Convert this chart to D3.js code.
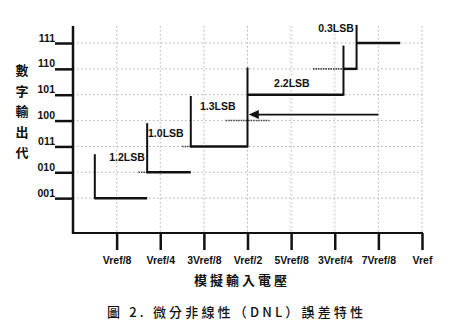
<!DOCTYPE html>
<html>
<head>
<meta charset="utf-8">
<script src="https://cdn.jsdelivr.net/npm/d3@7"></script>
<style>
  body { margin: 0; background: #fff; }
  svg { display: block; }
  .axis text { font-family: "Liberation Sans", Arial, sans-serif; font-weight: bold; font-size: 10.5px; fill: #111; }
</style>
</head>
<body>
<svg class="diagram" width="450" height="331"></svg>
<script>
// output codes (y) and input voltage ticks (x, in Vref/8 units)
var codes = ["001", "010", "011", "100", "101", "110", "111"];
var xLabels = ["Vref/8", "Vref/4", "3Vref/8", "Vref/2", "5Vref/8", "3Vref/4", "7Vref/8", "Vref"];

// actual transfer steps: [code, x start, x end]
var steps = [[1, 0.5, 1.7], [2, 1.7, 2.7], [3, 2.7, 4.0], [5, 4.0, 6.2], [6, 6.2, 6.5], [7, 6.5, 7.5]];
// transition risers: [x, code low, code high]
var risers = [[0.5, 1, 2.7], [1.7, 2, 3.9], [2.7, 3, 4.95], [4.0, 3, 6.05], [6.2, 5, 6.9], [6.5, 6, 7.7]];
// ideal (dotted) segments: [code, x start, x end]
var ideal = [[2, 1.5, 1.7], [3, 2.5, 2.7], [4, 3.5, 4.5], [6, 5.5, 6.2]];
// step width labels: [text, x, code]
var widths = [["1.2LSB", 0.83, 2.44], ["1.0LSB", 1.72, 3.36], ["1.3LSB", 2.91, 4.41], ["2.2LSB", 4.61, 5.3], ["0.3LSB", 5.62, 7.42]];
// missing code arrow: [x from, x to, code]
var arrow = [7.0, 4.03, 4.23];

var yTitle = "數字輸出代";
var xTitle = "模擬輸入電壓";
var caption = "圖 2.  微分非線性（DNL）誤差特性";

var svg = d3.select("svg.diagram");

var x = d3.scaleLinear().domain([0, 8]).range([73, 422]);
var y = d3.scaleLinear().domain([0, 7]).range([224, 43]);
var yTop = 7.66, yBottom = -0.35;

var g = svg.append("g");

// grid
g.append("g").selectAll("line")
    .data(d3.range(1, 8))
  .enter().append("line")
    .attr("x1", x(0)).attr("x2", x(8))
    .attr("y1", function(d) { return y(d); })
    .attr("y2", function(d) { return y(d); })
    .attr("stroke", "#b0b0b0").attr("stroke-width", 1).attr("stroke-dasharray", "1.5,2.5");

g.append("g").selectAll("line")
    .data(d3.range(1, 9))
  .enter().append("line")
    .attr("x1", function(d) { return x(d); })
    .attr("x2", function(d) { return x(d); })
    .attr("y1", y(yTop)).attr("y2", y(yBottom))
    .attr("stroke", "#b0b0b0").attr("stroke-width", 1).attr("stroke-dasharray", "1.5,2.5");

// axes
var xAxis = g.append("g")
    .attr("class", "axis")
    .attr("transform", "translate(0," + y(yBottom) + ")")
    .call(d3.axisBottom(x)
      .tickValues(d3.range(1, 9))
      .tickSize(17)
      .tickPadding(6)
      .tickFormat(function(d) { return xLabels[d - 1]; }));
xAxis.select(".domain").remove();
xAxis.selectAll(".tick line").attr("stroke", "#111").attr("stroke-width", 2.5);

var yAxis = g.append("g")
    .attr("class", "axis")
    .attr("transform", "translate(" + x(0) + ",0)")
    .call(d3.axisLeft(y)
      .tickValues(d3.range(1, 8))
      .tickSize(18)
      .tickFormat(function(d) { return codes[d - 1]; }));
yAxis.select(".domain").remove();
yAxis.selectAll(".tick line").attr("stroke", "#111").attr("stroke-width", 2.5);
yAxis.selectAll(".tick text").attr("x", -18).attr("dy", "-2");

g.append("line")
    .attr("x1", x(0)).attr("x2", x(0))
    .attr("y1", y(yTop)).attr("y2", y(yBottom) + 1)
    .attr("stroke", "#111").attr("stroke-width", 2.5);
g.append("line")
    .attr("x1", x(0)).attr("x2", x(8) + 1)
    .attr("y1", y(yBottom)).attr("y2", y(yBottom))
    .attr("stroke", "#111").attr("stroke-width", 2);

// ideal dotted segments
g.append("g").selectAll("line")
    .data(ideal)
  .enter().append("line")
    .attr("x1", function(d) { return x(d[1]); })
    .attr("x2", function(d) { return x(d[2]); })
    .attr("y1", function(d) { return y(d[0]); })
    .attr("y2", function(d) { return y(d[0]); })
    .attr("stroke", "#444").attr("stroke-width", 1.6).attr("stroke-dasharray", "1.5,1");

// steps
g.append("g").selectAll("line")
    .data(steps)
  .enter().append("line")
    .attr("x1", function(d) { return x(d[1]); })
    .attr("x2", function(d) { return x(d[2]); })
    .attr("y1", function(d) { return y(d[0]); })
    .attr("y2", function(d) { return y(d[0]); })
    .attr("stroke", "#111").attr("stroke-width", 2.5);

g.append("g").selectAll("line")
    .data(risers)
  .enter().append("line")
    .attr("x1", function(d) { return x(d[0]); })
    .attr("x2", function(d) { return x(d[0]); })
    .attr("y1", function(d) { return y(d[1]) + 1; })
    .attr("y2", function(d) { return y(d[2]); })
    .attr("stroke", "#111").attr("stroke-width", 2);

// arrow to missing code
g.append("line")
    .attr("x1", x(arrow[0])).attr("x2", x(arrow[1]) + 6)
    .attr("y1", y(arrow[2])).attr("y2", y(arrow[2]))
    .attr("stroke", "#111").attr("stroke-width", 1.6);
g.append("path")
    .attr("d", "M" + x(arrow[1]) + "," + y(arrow[2]) +
               "l10,-4.5l0,9z")
    .attr("fill", "#111");

// width labels
g.append("g").selectAll("text")
    .data(widths)
  .enter().append("text")
    .attr("x", function(d) { return x(d[1]); })
    .attr("y", function(d) { return y(d[2]); })
    .attr("font-family", "Liberation Sans, Arial, sans-serif")
    .attr("font-weight", "bold")
    .attr("font-size", 10.5)
    .attr("fill", "#111")
    .text(function(d) { return d[0]; });

// titles
var cjk = "'Noto Sans CJK TC', 'Noto Sans CJK SC', sans-serif";

g.append("g").selectAll("text")
    .data(yTitle.split(""))
  .enter().append("text")
    .attr("x", 22)
    .attr("y", function(d, i) { return 75 + i * 20.5; })
    .attr("text-anchor", "middle")
    .attr("font-family", cjk)
    .attr("font-weight", "bold")
    .attr("font-size", 13)
    .attr("fill", "#111")
    .text(function(d) { return d; });

g.append("text")
    .attr("x", 194).attr("y", 285)
    .attr("textLength", 93).attr("lengthAdjust", "spacing")
    .attr("font-family", cjk)
    .attr("font-weight", "bold")
    .attr("font-size", 13)
    .attr("fill", "#111")
    .text(xTitle);

g.append("text")
    .attr("x", 107).attr("y", 317)
    .attr("textLength", 256).attr("lengthAdjust", "spacing")
    .attr("font-family", cjk)
    .attr("font-weight", 500)
    .attr("font-size", 13)
    .attr("fill", "#111")
    .text(caption);
</script>
</body>
</html>
